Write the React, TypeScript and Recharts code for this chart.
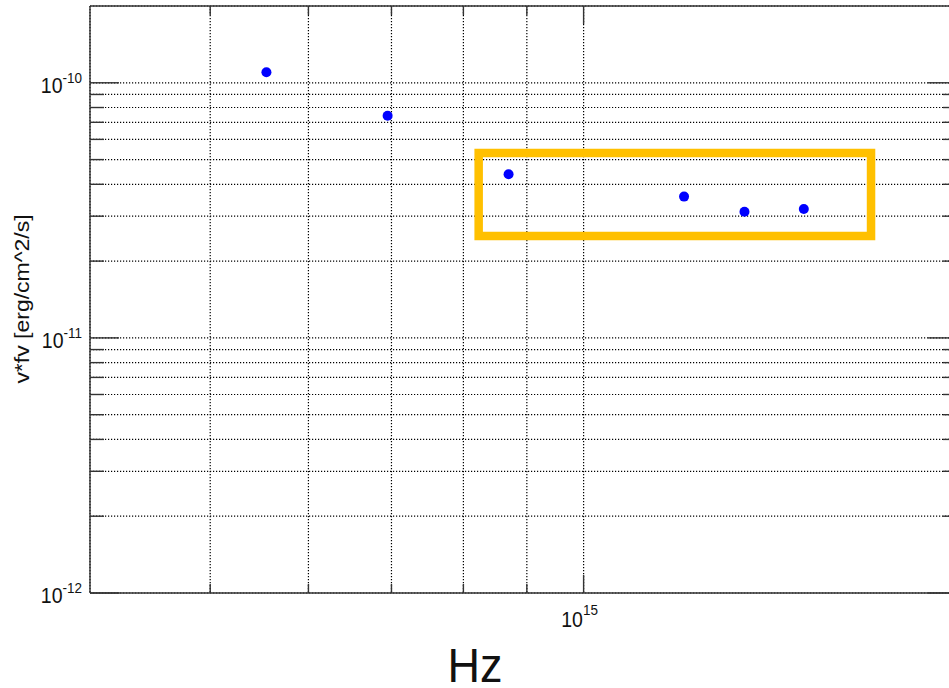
import { ScatterChart, Scatter, XAxis, YAxis, CartesianGrid, ReferenceArea } from "recharts";

// measured frequencies (Hz) and nu*F_nu (erg/cm^2/s)
const freqHz = [5.55e14, 6.95e14, 8.7e14, 1.205e15, 1.348e15, 1.505e15];
const nuFnu = [1.1e-10, 7.43e-11, 4.38e-11, 3.58e-11, 3.12e-11, 3.2e-11];

const xDomain = [4e14, 2e15];
const yDomain = [1e-12, 2e-10];

const xTicks = [5e14, 6e14, 7e14, 8e14, 9e14, 1e15];
const xMajorTicks = [1e15];
const xMajorExp = ["15"];

const yTicks = [
  1e-12, 2e-12, 3e-12, 4e-12, 5e-12, 6e-12, 7e-12, 8e-12, 9e-12,
  1e-11, 2e-11, 3e-11, 4e-11, 5e-11, 6e-11, 7e-11, 8e-11, 9e-11,
  1e-10,
];
const yMajorTicks = [1e-12, 1e-11, 1e-10];
const yMajorExp = ["-12", "-11", "-10"];

// highlighted region (annotation box)
const boxX = [8.23e14, 1.705e15];
const boxY = [2.51e-11, 5.31e-11];

const points = freqHz.map((x, i) => ({ x, y: nuFnu[i] }));

const FONT = '"Liberation Sans", Arial, Helvetica, sans-serif';
const AXIS = "#333";
const TEXT = "#111";
const STRETCH = 1.15;

function LeftTick(props: any) {
  const { x, y, payload } = props;
  const idx = yMajorTicks.indexOf(payload.value);
  const major = idx >= 0;
  return (
    <g>
      <line x1={x} x2={x + (major ? 29 : 14)} y1={y} y2={y} stroke={AXIS} strokeWidth={1.4} />
      {major && (
        <g transform={`translate(${x - 8},${y}) scale(1,${STRETCH})`}>
          <text x={0} y={8.7} textAnchor="end" fontSize={19.5} fill={TEXT} fontFamily={FONT}>
            10
            <tspan dy={-8.5} fontSize={13.5}>
              {yMajorExp[idx]}
            </tspan>
          </text>
        </g>
      )}
    </g>
  );
}

function RightTick(props: any) {
  const { x, y, payload } = props;
  const major = yMajorTicks.includes(payload.value);
  return <line x1={x - (major ? 29 : 14)} x2={x} y1={y} y2={y} stroke={AXIS} strokeWidth={1.4} />;
}

function BottomTick(props: any) {
  const { x, y, payload } = props;
  const idx = xMajorTicks.indexOf(payload.value);
  const major = idx >= 0;
  return (
    <g>
      <line x1={x} x2={x} y1={y} y2={y - (major ? 18 : 9)} stroke={AXIS} strokeWidth={1.4} />
      {major && (
        <g transform={`translate(${x - 4},${y}) scale(1,${STRETCH})`}>
          <text x={0} y={29.5} textAnchor="middle" fontSize={19.5} fill={TEXT} fontFamily={FONT}>
            10
            <tspan dy={-10} fontSize={13.5}>
              {xMajorExp[idx]}
            </tspan>
          </text>
        </g>
      )}
    </g>
  );
}

function TopTick(props: any) {
  const { x, y, payload } = props;
  const major = xMajorTicks.includes(payload.value);
  return <line x1={x} x2={x} y1={y} y2={y + (major ? 18 : 9)} stroke={AXIS} strokeWidth={1.4} />;
}

function Dot(props: any) {
  const { cx, cy } = props;
  return <circle cx={cx} cy={cy} r={5} fill="#0000ff" />;
}

export default function App() {
  return (
    <div
      style={{
        position: "absolute",
        left: 0,
        top: 0,
        width: 949,
        height: 688,
        overflow: "hidden",
        background: "#fff",
      }}
    >
      <ScatterChart width={980} height={688} margin={{ top: 0, right: 0, bottom: 0, left: 0 }}>
        <CartesianGrid
          xAxisId="b"
          yAxisId="l"
          stroke="#000"
          strokeWidth={1.2}
          strokeDasharray="1.2 1.8"
        />
        <XAxis
          xAxisId="b"
          dataKey="x"
          type="number"
          scale="log"
          domain={xDomain}
          allowDataOverflow
          ticks={xTicks}
          interval={0}
          height={95}
          tickSize={0}
          tickMargin={0}
          tickLine={false}
          axisLine={{ stroke: AXIS, strokeWidth: 1.4 }}
          tick={<BottomTick />}
        />
        <XAxis
          xAxisId="t"
          orientation="top"
          dataKey="x"
          type="number"
          scale="log"
          domain={xDomain}
          allowDataOverflow
          ticks={xTicks}
          interval={0}
          height={6}
          tickSize={0}
          tickMargin={0}
          tickLine={false}
          axisLine={{ stroke: AXIS, strokeWidth: 1.4 }}
          tick={<TopTick />}
        />
        <YAxis
          yAxisId="l"
          dataKey="y"
          type="number"
          scale="log"
          domain={yDomain}
          allowDataOverflow
          ticks={yTicks}
          interval={0}
          width={90}
          tickSize={0}
          tickMargin={0}
          tickLine={false}
          axisLine={{ stroke: AXIS, strokeWidth: 1.4 }}
          tick={<LeftTick />}
        />
        <YAxis
          yAxisId="r"
          orientation="right"
          dataKey="y"
          type="number"
          scale="log"
          domain={yDomain}
          allowDataOverflow
          ticks={yTicks}
          interval={0}
          width={23}
          tickSize={0}
          tickMargin={0}
          tickLine={false}
          axisLine={{ stroke: AXIS, strokeWidth: 1.4 }}
          tick={<RightTick />}
        />
        <ReferenceArea
          xAxisId="b"
          yAxisId="l"
          x1={boxX[0]}
          x2={boxX[1]}
          y1={boxY[0]}
          y2={boxY[1]}
          fill="none"
          fillOpacity={0}
          stroke="#FFC000"
          strokeWidth={8.5}
          strokeOpacity={1}
          ifOverflow="visible"
        />
        <Scatter
          xAxisId="b"
          yAxisId="l"
          data={points}
          shape={<Dot />}
          isAnimationActive={false}
        />
      </ScatterChart>
      <svg
        width={949}
        height={688}
        style={{ position: "absolute", left: 0, top: 0, pointerEvents: "none" }}
      >
        <g transform={`translate(29,299) rotate(-90) scale(${STRETCH},1)`}>
          <text x={0} y={0} textAnchor="middle" fontSize={20} fill={TEXT} fontFamily={FONT}>
            v*fv [erg/cm^2/s]
          </text>
        </g>
        <g transform="translate(475,682) scale(1,1.07)">
          <text x={0} y={0} textAnchor="middle" fontSize={45} fill={TEXT} fontFamily={FONT}>
            Hz
          </text>
        </g>
      </svg>
    </div>
  );
}
